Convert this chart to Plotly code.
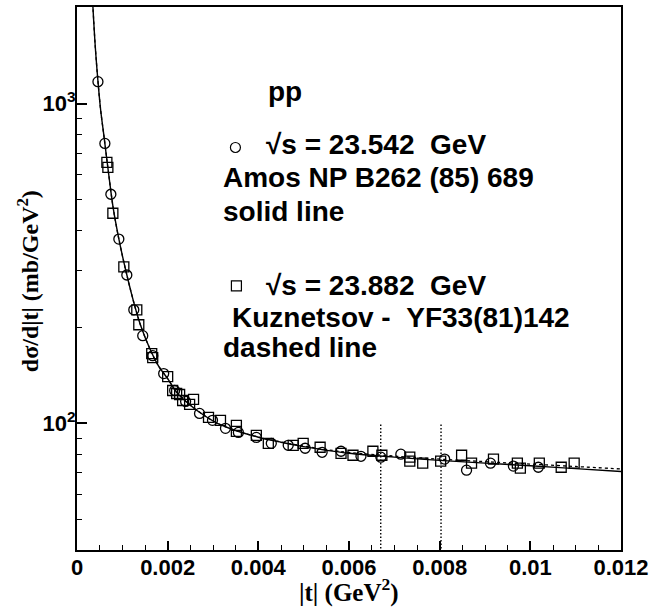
import plotly.graph_objects as go

# ---- data ----
# Amos et al. (circles), sqrt(s)=23.542 GeV
amos_t = [0.000462, 0.000615, 0.000747, 0.000923, 0.001099, 0.001253, 0.00145, 0.00167,
          0.001912, 0.002154, 0.002396, 0.002703, 0.002989, 0.003275, 0.00356, 0.003956,
          0.004286, 0.004659, 0.005033, 0.005407, 0.005824, 0.006264, 0.006703, 0.007143,
          0.00811, 0.008593, 0.009121, 0.009626, 0.010176]
amos_y = [1171, 750.6, 520.6, 377, 291, 226.5, 188, 162.8,
          143.1, 126.7, 117.1, 107.4, 102.2, 96.5, 93.7, 90.4,
          86.6, 85.4, 83.6, 81.2, 81.8, 78.9, 78.4, 80.1,
          77.3, 71.4, 75.1, 73.5, 72.9]

# Kuznetsov et al. (squares), sqrt(s)=23.882 GeV
kuz_t = [0.000659, 0.000681, 0.000791, 0.001033, 0.001319, 0.001363, 0.001648, 0.00167,
         0.002, 0.00211, 0.002198, 0.002264, 0.00233, 0.002484, 0.002571, 0.002901,
         0.003165, 0.003516, 0.003516, 0.003956, 0.00422, 0.004769, 0.004989, 0.005363,
         0.005824, 0.006088, 0.006527, 0.006725, 0.007341, 0.007341, 0.007626, 0.008022,
         0.008484, 0.008703, 0.009187, 0.009714, 0.00978, 0.010198, 0.010681, 0.010967]
kuz_y = [655, 632, 454, 308.4, 226.5, 203.4, 165.2, 160.6,
         140.1, 126.7, 124.0, 123.1, 117.9, 114.6, 118.8, 104.4,
         102.2, 98.6, 94.4, 91.7, 86.6, 85.4, 86.6, 84.2,
         80.6, 79.5, 81.8, 79.5, 78.4, 76.2, 75.1, 76.2,
         79.5, 75.1, 77.3, 75.1, 72.4, 75.1, 72.9, 75.1]

# fitted curves
fit_t = [0.00034, 0.0004, 0.00046, 0.00052, 0.0006, 0.0007, 0.0008, 0.0009, 0.001,
         0.0011, 0.0012, 0.0013, 0.0014, 0.0016, 0.0018, 0.002, 0.0022, 0.0025,
         0.0028, 0.0031, 0.0035, 0.004, 0.0045, 0.005, 0.0055, 0.006, 0.007,
         0.008, 0.009, 0.01, 0.011, 0.012]
solid_y = [2150, 1530, 1185, 960, 780, 600, 470, 392, 335,
           291, 255, 226, 203, 172, 151, 138, 125, 114,
           106, 100, 95, 90.5, 87.3, 84.6, 82.4, 80.6, 78.4,
           76.6, 75.1, 73.7, 72.2, 70.7]
dashed_y = [2150, 1530, 1185, 960, 780, 600, 470, 392, 335,
            291, 255, 226, 203, 172, 151, 138, 125, 114,
            106, 100, 95, 90.6, 87.5, 84.9, 82.8, 81.1, 79.0,
            77.3, 75.9, 74.6, 73.3, 72.0]

cut_t = [0.0067, 0.00803]
cut_top = 100

x_ticks = [0, 0.002, 0.004, 0.006, 0.008, 0.01, 0.012]
y_ticks = [100, 1000]
y_ticktext = ["10<sup>2</sup>", "10<sup>3</sup>"]
y_minor = [50, 60, 70, 80, 90, 200, 300, 400, 500, 600, 700, 800, 900, 2000]

# ---- layout geometry ----
W, H = 654, 610
L, R, T, B = 77, 31, 5, 60
PW, PH = W - L - R, H - T - B


def px(x):
    return (x - L) / PW


def py(y):
    return (H - B - y) / PH


fig = go.Figure()

for ct in cut_t:
    fig.add_trace(go.Scatter(x=[ct, ct], y=[30, cut_top], mode="lines",
                             line=dict(color="black", width=1.4, dash="1.5px,2px"),
                             hoverinfo="skip", showlegend=False))

fig.add_trace(go.Scatter(x=fit_t, y=dashed_y, mode="lines", line_shape="spline",
                         line=dict(color="black", width=1.3, dash="3px,3px"),
                         showlegend=False))
fig.add_trace(go.Scatter(x=fit_t, y=solid_y, mode="lines", line_shape="spline",
                         line=dict(color="black", width=1.4), showlegend=False))

fig.add_trace(go.Scatter(x=amos_t, y=amos_y, mode="markers",
                         marker=dict(symbol="circle-open", size=10, color="black",
                                     line=dict(width=1.3, color="black")),
                         showlegend=False))
fig.add_trace(go.Scatter(x=kuz_t, y=kuz_y, mode="markers",
                         marker=dict(symbol="square-open", size=10, color="black",
                                     line=dict(width=1.3, color="black")),
                         showlegend=False))

tickfont = dict(family="Liberation Sans", size=22, color="black", weight="bold")

fig.update_xaxes(range=[0, 0.012], tickvals=x_ticks,
                 ticks="inside", ticklen=9, tickwidth=1.5, tickcolor="black",
                 showline=True, linecolor="black", linewidth=2, mirror=True,
                 showgrid=False, zeroline=False, tickfont=tickfont, ticklabelstandoff=-3,
                 minor=dict(dtick=0.0005, tick0=0, ticks="inside", ticklen=5,
                            tickwidth=1.2, tickcolor="black", showgrid=False))
fig.update_yaxes(type="log", range=[1.604, 3.302], tickvals=y_ticks, ticktext=y_ticktext,
                 ticks="inside", ticklen=10, tickwidth=1.5, tickcolor="black",
                 showline=True, linecolor="black", linewidth=2, mirror=True,
                 showgrid=False, zeroline=False, tickfont=tickfont, ticklabelstandoff=-5,
                 minor=dict(tickvals=y_minor, ticks="inside", ticklen=5,
                            tickwidth=1.2, tickcolor="black", showgrid=False))

bold_sans = dict(family="Liberation Sans", size=28, color="black", weight="bold")
nb = "\u00a0"
ann = [
    ("pp", 267, 90),
    ("\u221as = 23.542" + nb + nb + "GeV", 265, 143),
    ("Amos NP B262 (85) 689", 222, 176),
    ("solid line", 222, 210),
    ("\u221as = 23.882" + nb + nb + "GeV", 265, 285),
    ("Kuznetsov -" + nb + nb + "YF33(81)142", 231, 317),
    ("dashed line", 222, 347),
]
for txt, x, y in ann:
    fig.add_annotation(text=txt, x=px(x), y=py(y), xref="paper", yref="paper",
                       xanchor="left", yanchor="middle", showarrow=False, font=bold_sans)

# legend symbols
fig.add_shape(type="circle", xref="paper", yref="paper", xsizemode="pixel", ysizemode="pixel",
              xanchor=px(236), yanchor=py(146), x0=-5, x1=5, y0=-5, y1=5,
              line=dict(color="black", width=1.2))
fig.add_shape(type="rect", xref="paper", yref="paper", xsizemode="pixel", ysizemode="pixel",
              xanchor=px(237), yanchor=py(285), x0=-5, x1=5, y0=-5, y1=5,
              line=dict(color="black", width=1.2))

serif = dict(family="Liberation Serif", size=24, color="black", weight="bold")
fig.add_annotation(text="d\u03c3/d|t| (mb/GeV<sup>2</sup>)", textangle=-90,
                   x=px(28), y=py(280), xref="paper", yref="paper",
                   xanchor="center", yanchor="middle", showarrow=False, font=serif)
fig.add_annotation(text="|t| (GeV<sup>2</sup>)", x=px(350), y=py(591),
                   xref="paper", yref="paper", xanchor="center", yanchor="middle",
                   showarrow=False, font=dict(serif, size=25))

fig.update_layout(width=W, height=H, margin=dict(l=L, r=R, t=T, b=B),
                  paper_bgcolor="white", plot_bgcolor="white", showlegend=False)

fig.write_html("out.html", config={"displayModeBar": False},
               post_script="document.body.style.margin='0';"
                           "document.body.style.overflow='hidden';")
